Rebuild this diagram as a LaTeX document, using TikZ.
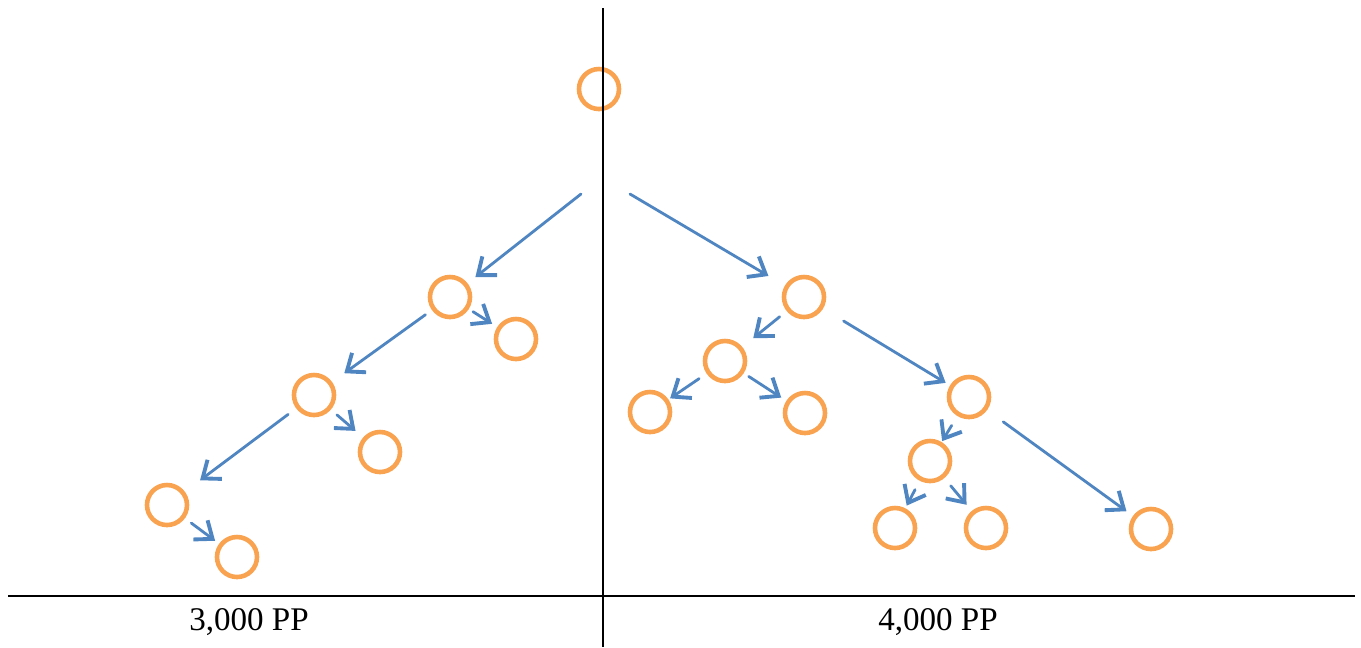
\documentclass[tikz,border=0pt]{standalone}
\usepackage{fontspec}
\setmainfont{Liberation Serif}
\usetikzlibrary{arrows.meta}
\definecolor{orng}{HTML}{F9A24F}
\definecolor{blu}{HTML}{4F86C2}
\tikzset{
  ring/.style={circle,draw=orng,line width=1.3pt,minimum size=0.40cm,inner sep=0pt},
  ar/.style={-{Straight Barb[length=4.3pt,width=6.8pt,line width=1.1pt]},line width=0.8pt,draw=blu,line cap=round},
  ax/.style={line width=0.6pt,draw=black},
  lbl/.style={font=\fontsize{9.4}{11}\selectfont,anchor=base,inner sep=0pt},
}

\begin{document}
\begin{tikzpicture}[x=0.01cm,y=-0.01cm]
\useasboundingbox (0,0) rectangle (1361,647);
% rings, left side
\node[ring] (top) at (599,89) {};
\node[ring] (l1) at (450,297) {};
\node[ring] (l1b) at (516,339) {};
\node[ring] (l2) at (314,395) {};
\node[ring] (l2b) at (380,452) {};
\node[ring] (l3) at (167,505) {};
\node[ring] (l3b) at (237,557) {};
% rings, right side
\node[ring] (r1) at (804,297) {};
\node[ring] (r2) at (725,361) {};
\node[ring] (r2a) at (650,412) {};
\node[ring] (r2b) at (805,413) {};
\node[ring] (r3) at (969,397) {};
\node[ring] (r4) at (930,461) {};
\node[ring] (r4a) at (895,528) {};
\node[ring] (r4b) at (986,528) {};
\node[ring] (r5) at (1151,529) {};
% axes
\draw[ax] (603,8) -- (603,647);
\draw[ax] (8,596) -- (1355,596);
\node[lbl] (pl) at (249,630) {3,000 PP};
\node[lbl] (pr) at (938,630) {4,000 PP};
% arrows
\coordinate (sl) at (581,194);
\coordinate (sr) at (630,194);
\draw[ar,shorten >=.10cm] (sl) -- (l1);
\draw[ar,shorten >=.19cm] (sr) -- (r1);
\draw[ar,shorten <=.08cm,shorten >=.15cm] (l1) -- (l2);
\draw[ar,shorten <=.05cm,shorten >=.06cm] (l1) -- (l1b);
\draw[ar,shorten <=.10cm,shorten >=.19cm] (l2) -- (l3);
\draw[ar,shorten <=.08cm,shorten >=.10cm] (l2) -- (l2b);
\draw[ar,shorten <=.08cm,shorten >=.05cm] (l3) -- (l3b);
\draw[ar,shorten <=.09cm,shorten >=.14cm] (r1) -- (r2);
\draw[ar,shorten <=.24cm,shorten >=.05cm] (r1) -- (r3);
\draw[ar,shorten <=.09cm,shorten >=.02cm] (r2) -- (r2a);
\draw[ar,shorten <=.06cm,shorten >=.06cm] (r2) -- (r2b);
\draw[ar,shorten <=.11cm,shorten >=.01cm] (r3) -- (r4);
\draw[ar,shorten <=.20cm,shorten >=.08cm] (r3) -- (r5);
\draw[ar,shorten <=.10cm,shorten >=.03cm] (r4) -- (r4a);
\draw[ar,shorten <=.10cm,shorten >=.08cm] (r4) -- (r4b);
\end{tikzpicture}
\end{document}
